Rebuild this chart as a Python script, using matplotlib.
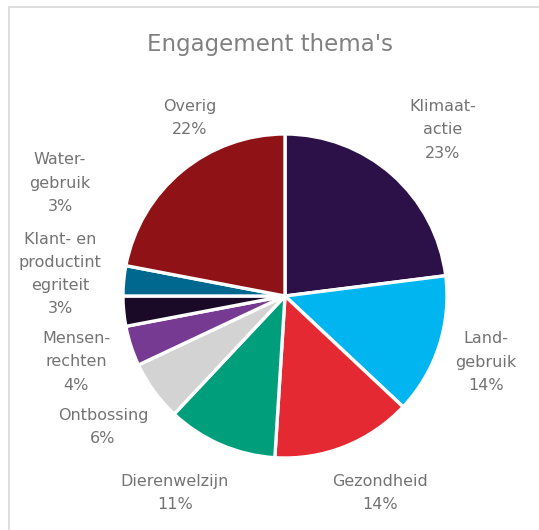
import matplotlib.pyplot as plt
from matplotlib.patches import Rectangle

# data
themes = ["Klimaat-\nactie", "Land-\ngebruik", "Gezondheid", "Dierenwelzijn", "Ontbossing",
          "Mensen-\nrechten", "Klant- en\nproductint\negriteit", "Water-\ngebruik", "Overig"]
shares = [23, 14, 14, 11, 6, 4, 3, 3, 22]
colors = ["#2C1148", "#00B5F0", "#E52932", "#009E7B", "#D3D3D3",
          "#773A93", "#1A0A28", "#00688F", "#8F1217"]

# label centres in pixels (x, y from top), as placed in the original
label_px = [(443, 130), (486, 362), (380, 493), (175, 493), (103, 427),
            (76, 362), (60, 274), (60, 183), (190, 118)]

W, H = 539, 530
cx, cy, r = 285, 296, 162

fig = plt.figure(figsize=(W / 100, H / 100), dpi=100)
fig.patches.append(Rectangle((9 / W, -0.1), 1.2, 1 - 7 / H + 0.1, transform=fig.transFigure,
                             fill=False, edgecolor="#D9D9D9", linewidth=1.2))

ax = fig.add_axes([(cx - r) / W, (H - cy - r) / H, 2 * r / W, 2 * r / H])
ax.pie(shares, colors=colors, startangle=90, counterclock=False, radius=1,
       wedgeprops=dict(edgecolor="white", linewidth=2.4))
ax.set_xlim(-1, 1)
ax.set_ylim(-1, 1)
ax.axis("off")

for name, val, (px, py) in zip(themes, shares, label_px):
    ax.text((px - cx) / r, (cy - py) / r, f"{name}\n{val}%", ha="center", va="center",
            fontsize=11.5, color="#737373", linespacing=1.68, clip_on=False)

fig.text(270 / W, 1 - 45 / H, "Engagement thema's", ha="center", va="center",
         fontsize=16.5, color="#808080")

fig.savefig("out.png", dpi=100)
